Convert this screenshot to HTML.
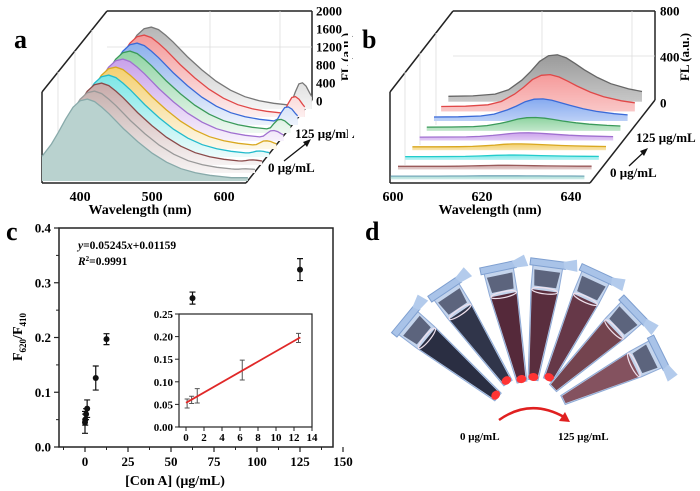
<!DOCTYPE html>
<html><head><meta charset="utf-8"><style>
body{margin:0;background:#fff}
svg{display:block;font-family:"Liberation Serif",serif;font-weight:bold}
</style></head><body>
<svg id="fig" width="700" height="491" viewBox="0 0 700 491" xmlns="http://www.w3.org/2000/svg">
<defs>
<linearGradient id="fadeA" x1="0" y1="0" x2="0" y2="1"><stop offset="0" stop-color="#fff" stop-opacity="0"/><stop offset="1" stop-color="#fff" stop-opacity="0.85"/></linearGradient>
<linearGradient id="fadeB" x1="0" y1="0" x2="0" y2="1"><stop offset="0" stop-color="#fff" stop-opacity="0"/><stop offset="1" stop-color="#fff" stop-opacity="0.45"/></linearGradient>
</defs>
<g id="panelA">
 <text x="14" y="48" font-size="26">a</text>
 <g id="frameA" stroke="#222" stroke-width="1.5" fill="none">
  <line x1="42" y1="92" x2="107" y2="11"/><line x1="107" y1="11" x2="312" y2="11"/><line x1="312" y1="11" x2="312" y2="100"/>
  <line x1="42" y1="92" x2="42" y2="183"/><line x1="42" y1="183" x2="246" y2="183"/><line x1="246" y1="183" x2="312" y2="100"/>
 </g>
 <g stroke="#ddd" stroke-width="0.8">
  <line x1="210" y1="11" x2="210" y2="100"/><line x1="280" y1="11" x2="280" y2="100"/>
  <line x1="107" y1="47" x2="312" y2="47"/><line x1="58" y1="72" x2="58" y2="160"/><line x1="75" y1="51" x2="75" y2="140"/><line x1="92" y1="30" x2="92" y2="120"/>
 </g>
 <g id="seriesA"></g>
 <g id="axisA" font-size="13"></g>
 <text x="140" y="214" font-size="14" text-anchor="middle">Wavelength (nm)</text>
 <text x="295" y="138" font-size="13">125 μg/mL</text>
 <text x="268" y="172" font-size="13">0 μg/mL</text>
 <line x1="284" y1="161" x2="308" y2="142" stroke="#111" stroke-width="1.3"/>
 <polygon points="311,139 303,142 307,147" fill="#111"/>
 <text transform="translate(350,57) rotate(-90)" font-size="13" text-anchor="middle">FL (a.u.)</text>
</g>
<rect x="348" y="0" width="4" height="215" fill="#fff"/>
<g id="panelB">
 <text x="362" y="48" font-size="26">b</text>
 <g stroke="#222" stroke-width="1.5" fill="none">
  <line x1="390" y1="92" x2="453" y2="11"/><line x1="453" y1="11" x2="655" y2="11"/><line x1="655" y1="11" x2="655" y2="100"/>
  <line x1="390" y1="92" x2="390" y2="183"/><line x1="390" y1="183" x2="590" y2="183"/><line x1="590" y1="183" x2="655" y2="100"/>
 </g>
 <g stroke="#ddd" stroke-width="0.8">
  <line x1="542" y1="11" x2="542" y2="100"/><line x1="632" y1="11" x2="632" y2="100"/><line x1="453" y1="56" x2="655" y2="56"/>
  <line x1="405" y1="72" x2="405" y2="165"/><line x1="420" y1="53" x2="420" y2="145"/><line x1="436" y1="33" x2="436" y2="125"/>
 </g>
 <g id="seriesB"></g>
 <g id="axisB" font-size="13"></g>
 <text x="490" y="214" font-size="14" text-anchor="middle">Wavelength (nm)</text>
 <text x="636" y="142" font-size="13">125 μg/mL</text>
 <text x="610" y="177" font-size="13">0 μg/mL</text>
 <line x1="629" y1="166" x2="645" y2="151" stroke="#111" stroke-width="1.3"/>
 <polygon points="648,148 640,151 644,156" fill="#111"/>
 <text transform="translate(689,57) rotate(-90)" font-size="13" text-anchor="middle">FL (a.u.)</text>
</g>
<g id="panelC">
 <text x="6" y="240" font-size="26">c</text>
 <rect x="59" y="228" width="274" height="219" fill="none" stroke="#222" stroke-width="1.5"/>
 <g id="axisC" font-size="13"></g>
 <text x="78" y="249" font-size="11.5"><tspan font-style="italic">y</tspan>=0.05245<tspan font-style="italic">x</tspan>+0.01159</text>
 <text x="78" y="265" font-size="11.5"><tspan font-style="italic">R</tspan><tspan font-size="7" dy="-4">2</tspan><tspan dy="4">=0.9991</tspan></text>
 <g id="pointsC"></g>
 <rect x="179" y="314" width="133" height="113" fill="#fff" stroke="#222" stroke-width="1.2"/>
 <g id="inset" font-size="11"></g>
 <text x="175" y="485" font-size="14" text-anchor="middle">[Con A] (μg/mL)</text>
 <text transform="translate(22,337) rotate(-90)" font-size="14" text-anchor="middle">F<tspan font-size="9" dy="4">620</tspan><tspan dy="-4">/F</tspan><tspan font-size="9" dy="4">410</tspan></text>
</g>
<g id="panelD">
 <text x="365" y="240" font-size="26">d</text>
 <g id="tubes"></g>
 <path d="M499,420 Q530,398 564,417" fill="none" stroke="#e02020" stroke-width="2.5"/>
 <polygon points="570,422 559,421 565,412" fill="#e02020"/>
 <text x="460" y="440" font-size="11">0 μg/mL</text>
 <text x="558" y="440" font-size="11">125 μg/mL</text>
</g>
</svg>
<script>
const NS="http://www.w3.org/2000/svg";
function mk(p,t,a){const e=document.createElementNS(NS,t);for(const k in a)e.setAttribute(k,a[k]);p.appendChild(e);return e;}

// ---- Panel a data ----
const wlA=[347,360,370,380,390,400,410,420,430,440,450,460,480,500,520,540,560,580,600,605,610,615,620,625,630,633];
const shapeA=[0.3,0.45,0.6,0.76,0.9,0.98,1.0,0.97,0.9,0.82,0.73,0.64,0.48,0.34,0.23,0.15,0.1,0.07,0.05,0.045,0.04,0.04,0.04,0.04,0.04,0.04];
const peak620A=[0,0,0,0,0,0,0,0,0,0,0,0,0,0,0,0,0,0,0,0.15,0.6,0.95,1.0,0.85,0.55,0.4];
const mainA=[1820,1820,1820,1820,1820,1820,1820,1820,1820,1820];
const p620A=[0,20,40,60,110,160,230,330,380,510];
const colorsA=["#b9d2cf","#c8b2b0","#c8aaa9","#7de6e6","#f4d070","#c9a2ea","#90d4a4","#8cb0ec","#f39a9a","#b6b6b6"];
const linesA=["#8aa","#999","#8a4a4a","#2bc","#d9a820","#a070d0","#3a9a5a","#3a6ad8","#e04848","#777"];
const sA=document.getElementById('seriesA');
function pa(w,k,v){return [42+(w-347)*0.72+k*7.1, 181-k*8.0-v*0.045];}
for(let k=colorsA.length-1;k>=0;k--){
  const pts=wlA.map((w,i)=>pa(w,k,shapeA[i]*mainA[k]+peak620A[i]*p620A[k]));
  const b0=pa(wlA[0],k,0),b1=pa(wlA[wlA.length-1],k,0);
  const d="M"+b0.join(",")+" L"+pts.map(p=>p[0].toFixed(1)+","+p[1].toFixed(1)).join(" L")+" L"+b1.join(",")+"Z";
  const f=mk(sA,'path',{d:d,fill:colorsA[k],stroke:'none'});
  
  
  if(k>0){const g=mk(sA,'path',{d:d,fill:'url(#fadeA)'});}
  const l=mk(sA,'path',{d:"M"+pts.map(p=>p[0].toFixed(1)+","+p[1].toFixed(1)).join(" L"),fill:'none',stroke:linesA[k],'stroke-width':1.3});
  
  
}
const axA=document.getElementById('axisA');
const ticksAy=[0,400,800,1200,1600,2000];
ticksAy.forEach(v=>{const y=101-v*0.045;
  const t=mk(axA,'text',{x:316,y:y+4.5});t.textContent=v;
  });
const ticksAx=[400,500,600];
ticksAx.forEach(v=>{const x=pa(v,0,0)[0];
  const t=mk(axA,'text',{x:x,y:201,'text-anchor':'middle','font-size':14});t.textContent=v;
  });

// ---- Panel b data ----
const wlB=[599.5,605,610,613,616,618,620,622,624,626,628,630,633,636,640,643];
const shapeB=[0.05,0.06,0.1,0.2,0.42,0.62,0.85,0.98,1.0,0.93,0.8,0.66,0.48,0.34,0.22,0.16];
const peakB=[3,10,15,28,40,90,170,300,390,480];
const colorsB=["#a8dcd6","#cfa9a9","#7fe8ea","#f3cf6a","#cba2ec","#8ed3a0","#86aaf0","#f59a9a","#9a9a9a"];
const linesB=["#7ab","#9a5a5a","#2cc","#d9a820","#a070d0","#3a9a5a","#3a6ad8","#e04848","#666"];
const sB=document.getElementById('seriesB');
function pb(w,k,v){return [393+(w-600)*4.45+k*7.2, 177-k*9.7-v*0.112];}
for(let k=colorsB.length-1;k>=0;k--){
  const pts=wlB.map((w,i)=>pb(w,k,shapeB[i]*peakB[k]+8));
  const b0=pb(wlB[0],k,-20),b1=pb(wlB[wlB.length-1],k,-20);
  const d="M"+b0.join(",")+" L"+pts.map(p=>p[0].toFixed(1)+","+p[1].toFixed(1)).join(" L")+" L"+b1.join(",")+"Z";
  const f=mk(sB,'path',{d:d,fill:colorsB[k]});
  
  
  const g=mk(sB,'path',{d:d,fill:'url(#fadeB)'});
  
  
  const l=mk(sB,'path',{d:"M"+pts.map(p=>p[0].toFixed(1)+","+p[1].toFixed(1)).join(" L"),fill:'none',stroke:linesB[k],'stroke-width':1.3});
  
  
}
const axB=document.getElementById('axisB');
const ticksBy=[0,400,800];
ticksBy.forEach(v=>{const y=103-v*0.115;
  const t=mk(axB,'text',{x:660,y:y+4.5});t.textContent=v;
  });
const ticksBx=[600,620,640];
ticksBx.forEach(v=>{const x=pb(v,0,0)[0];
  const t=mk(axB,'text',{x:x,y:201,'text-anchor':'middle','font-size':14});t.textContent=v;
  });

// ---- Panel c data ----
const concC=[0,0.125,0.625,1.25,6.25,12.5,62.5,125];
const ratioC=[0.045,0.05,0.06,0.07,0.126,0.197,0.272,0.324];
const errC=[0.02,0.01,0.01,0.016,0.022,0.01,0.011,0.02];
const xTicksC=[0,25,50,75,100,125,150];
const yTicksC=[0,0.1,0.2,0.3,0.4];
const X=v=>85+v*1.72, Y=v=>447-v*547.5;
const axC=document.getElementById('axisC');
xTicksC.forEach(v=>{const x=X(v);
  const l=mk(axC,'line',{x1:x,y1:447,x2:x,y2:452,stroke:'#222','stroke-width':1.2});
  
  const m=mk(axC,'line',{x1:x-21.5,y1:447,x2:x-21.5,y2:450,stroke:'#222'});
  
  const t=mk(axC,'text',{x:x,y:466,'text-anchor':'middle'});t.textContent=v;
  });
yTicksC.forEach(v=>{const y=Y(v);
  const l=mk(axC,'line',{x1:54,y1:y,x2:59,y2:y,stroke:'#222','stroke-width':1.2});
  
  if(v>0){const m=mk(axC,'line',{x1:56,y1:y+27.4,x2:59,y2:y+27.4,stroke:'#222'});
  }
  const t=mk(axC,'text',{x:51,y:y+4.5,'text-anchor':'end'});t.textContent=v.toFixed(1);
  });
const pC=document.getElementById('pointsC');
concC.forEach((c,i)=>{const x=X(c),y=Y(ratioC[i]),e=errC[i]*547.5;
  const eb=mk(pC,'path',{d:`M${x},${y-e}V${y+e}M${x-3},${y-e}H${x+3}M${x-3},${y+e}H${x+3}`,stroke:'#111','stroke-width':1.2,fill:'none'});
  
  const p=mk(pC,'circle',{cx:x,cy:y,r:3,fill:'#111'});
  });

// inset
const concI=[0.125,0.625,1.25,6.25,12.5];
const ratioI=[0.052,0.06,0.069,0.126,0.197];
const errI=[0.01,0.008,0.016,0.022,0.01];
const fitI=[0.0535,0.0114];
const xTicksI=[0,2,4,6,8,10,12,14];
const yTicksI=[0,0.05,0.1,0.15,0.2,0.25];
const IX=v=>186+v*9, IY=v=>427-v*452;
const ins=document.getElementById('inset');
xTicksI.forEach(v=>{const x=IX(v);
  const l=mk(ins,'line',{x1:x,y1:427,x2:x,y2:431,stroke:'#222'});
  
  const t=mk(ins,'text',{x:x,y:441,'text-anchor':'middle'});t.textContent=v;
  });
yTicksI.forEach(v=>{const y=IY(v);
  const l=mk(ins,'line',{x1:175,y1:y,x2:179,y2:y,stroke:'#222'});
  
  const t=mk(ins,'text',{x:173,y:y+4,'text-anchor':'end'});t.textContent=v.toFixed(2);
  });
concI.forEach((c,i)=>{const x=IX(c),y=IY(ratioI[i]),e=errI[i]*452;
  const eb=mk(ins,'path',{d:`M${x},${y-e}V${y+e}M${x-2.5},${y-e}H${x+2.5}M${x-2.5},${y+e}H${x+2.5}`,stroke:'#555','stroke-width':1,fill:'none'});
  });
const fl=mk(ins,'line',{x1:IX(0),y1:IY(fitI[0]),x2:IX(12.7),y2:IY(fitI[0]+fitI[1]*12.7),stroke:'#e02828','stroke-width':1.8});



// ---- Panel d tubes ----
const tubeTips=[[498,397],[508,383],[522,382],[533,380],[548,380],[553,388],[563,400]];
const tubeTops=[[413,327],[450,297],[500,277],[547,273],[593,283],[627,317],[650,357]];
const tubeLiquid=["#2a2e42","#30354a","#55293a","#5a2e3e","#663848","#74444f","#84525f"];
const tg=document.getElementById('tubes');
tubeTips.forEach((tip,i)=>{
  const top=tubeTops[i],dx=top[0]-tip[0],dy=top[1]-tip[1];
  const L=Math.hypot(dx,dy)+8, ang=Math.atan2(dx,-dy)*180/Math.PI;
  const g=mk(tg,'g',{transform:`translate(${tip[0]},${tip[1]}) rotate(${ang})`});
  
  
  mk(g,'path',{d:`M-5,0 L-14,${-L+24} L-15,${-L} L15,${-L} L14,${-L+24} L5,0 Z`,fill:'#c4d4ec',stroke:'#8eaad6','stroke-width':1});
  mk(g,'path',{d:`M-4,-1 L-13,${-L+26} L13,${-L+26} L4,-1 Z`,fill:tubeLiquid[i]});
  mk(g,'path',{d:`M-11,${-L+22} L-13,${-L+6} L13,${-L+6} L11,${-L+22} Z`,fill:'#3a3f58',opacity:0.75});
  mk(g,'ellipse',{cx:0,cy:-L+26,rx:13,ry:3,fill:'none',stroke:'#efe0ec','stroke-width':1.2});
  mk(g,'rect',{x:-18,y:-L-5,width:36,height:7,fill:'#a9c3e8',stroke:'#7e9fd0'});
  mk(g,'path',{d:`M15,${-L-5} L28,${-L-9} L30,${-L+3} L17,${-L+2}Z`,fill:'#b3cbec'});
  if(i<5) mk(g,'ellipse',{cx:0,cy:-3,rx:5,ry:4,fill:'#ff3434'});
});
</script>
</body></html>
